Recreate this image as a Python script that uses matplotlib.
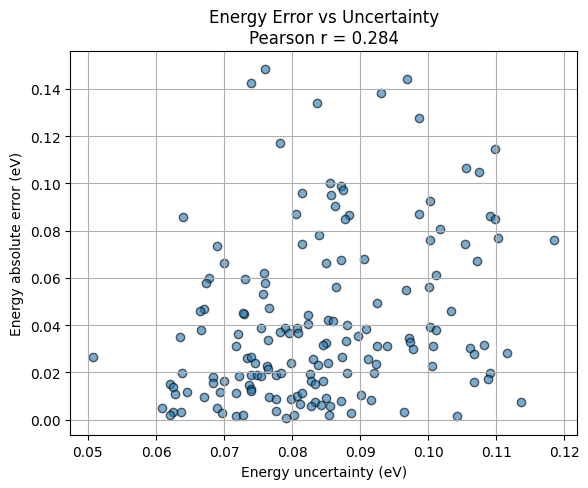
import matplotlib
matplotlib.use('Agg')
import matplotlib.pyplot as plt
import numpy as np

# energy uncertainty (eV)
uncertainty = [
    0.0640, 0.0689, 0.0760, 0.0740, 0.0969, 0.0930, 0.0836, 0.0782, 0.0855, 0.0872,
    0.0874, 0.0814, 0.0857, 0.0863, 0.0806, 0.0883, 0.0877, 0.0839, 0.0814, 0.0986,
    0.1098, 0.1055, 0.1074, 0.1002, 0.0986, 0.1091, 0.1098, 0.1017, 0.1002, 0.1054,
    0.1103, 0.1185, 0.0700, 0.0678, 0.0674, 0.0670, 0.0665, 0.0666, 0.0635, 0.0508,
    0.0638, 0.0683, 0.0620, 0.0625, 0.0628, 0.0646, 0.0700, 0.0684, 0.0694, 0.0671,
    0.0609, 0.0625, 0.0620, 0.0637, 0.0689, 0.0697, 0.0718, 0.0720, 0.0718, 0.0722,
    0.0718, 0.0849, 0.0872, 0.0905, 0.0758, 0.0731, 0.0760, 0.0757, 0.0864, 0.0967,
    0.0924, 0.0766, 0.0729, 0.0728, 0.0823, 0.0823, 0.0852, 0.0860, 0.0881, 0.0908,
    0.0896, 0.0754, 0.0789, 0.0782, 0.0795, 0.0807, 0.0809, 0.0764, 0.0849, 0.0846,
    0.0879, 0.0925, 0.0940, 0.0733, 0.0739, 0.0745, 0.0763, 0.0764, 0.0798, 0.0830,
    0.0838, 0.0852, 0.0873, 0.0911, 0.0923, 0.0920, 0.0880, 0.0740, 0.0749, 0.0754,
    0.0776, 0.0784, 0.0826, 0.0828, 0.0833, 0.0845, 0.0736, 0.0739, 0.0740, 0.0766,
    0.0777, 0.0799, 0.0807, 0.0814, 0.0811, 0.0833, 0.0828, 0.0843, 0.0849, 0.0856,
    0.0872, 0.0901, 0.0916, 0.0776, 0.0802, 0.0791, 0.0728, 0.0854, 0.0887, 0.0965,
    0.1071, 0.1012, 0.1001, 0.1034, 0.1003, 0.1012, 0.0971, 0.0973, 0.0977, 0.1007,
    0.1061, 0.1067, 0.1082, 0.1115, 0.1005, 0.1090, 0.1088, 0.1067, 0.1136, 0.1042,
]

# energy absolute error (eV)
abs_error = [
    0.0857, 0.0737, 0.1485, 0.1423, 0.1443, 0.1383, 0.1341, 0.1171, 0.1001, 0.0987,
    0.0972, 0.0959, 0.0950, 0.0905, 0.0870, 0.0867, 0.0849, 0.0781, 0.0742, 0.1277,
    0.1146, 0.1065, 0.1048, 0.0925, 0.0870, 0.0863, 0.0849, 0.0806, 0.0759, 0.0742,
    0.0768, 0.0759, 0.0662, 0.0600, 0.0577, 0.0467, 0.0459, 0.0379, 0.0352, 0.0267,
    0.0199, 0.0182, 0.0153, 0.0140, 0.0110, 0.0119, 0.0165, 0.0154, 0.0117, 0.0095,
    0.0051, 0.0034, 0.0022, 0.0031, 0.0051, 0.0030, 0.0014, 0.0361, 0.0310, 0.0187,
    0.0111, 0.0663, 0.0675, 0.0679, 0.0619, 0.0594, 0.0577, 0.0530, 0.0560, 0.0547,
    0.0493, 0.0471, 0.0448, 0.0451, 0.0441, 0.0407, 0.0421, 0.0417, 0.0399, 0.0382,
    0.0356, 0.0386, 0.0390, 0.0373, 0.0369, 0.0386, 0.0365, 0.0339, 0.0324, 0.0318,
    0.0331, 0.0314, 0.0314, 0.0261, 0.0267, 0.0238, 0.0226, 0.0215, 0.0242, 0.0259,
    0.0230, 0.0238, 0.0267, 0.0256, 0.0235, 0.0199, 0.0199, 0.0188, 0.0188, 0.0184,
    0.0188, 0.0199, 0.0193, 0.0165, 0.0153, 0.0165, 0.0147, 0.0132, 0.0121, 0.0095,
    0.0089, 0.0089, 0.0100, 0.0115, 0.0065, 0.0076, 0.0058, 0.0062, 0.0093, 0.0058,
    0.0081, 0.0104, 0.0085, 0.0035, 0.0020, 0.0008, 0.0018, 0.0022, 0.0027, 0.0031,
    0.0670, 0.0612, 0.0560, 0.0462, 0.0392, 0.0379, 0.0345, 0.0328, 0.0301, 0.0314,
    0.0303, 0.0276, 0.0318, 0.0284, 0.0229, 0.0199, 0.0174, 0.0161, 0.0076, 0.0014,
]

fig = plt.figure(figsize=(5.88, 4.89), dpi=100)
ax = fig.add_axes([0.1196, 0.1078, 0.8622, 0.7853])

ax.scatter(uncertainty, abs_error, alpha=0.6, edgecolors='k')
ax.set_xlabel('Energy uncertainty (eV)')
ax.set_ylabel('Energy absolute error (eV)')
ax.set_title('Energy Error vs Uncertainty\nPearson r = 0.284')
ax.grid(True)

fig.savefig('out.png', dpi=100)
